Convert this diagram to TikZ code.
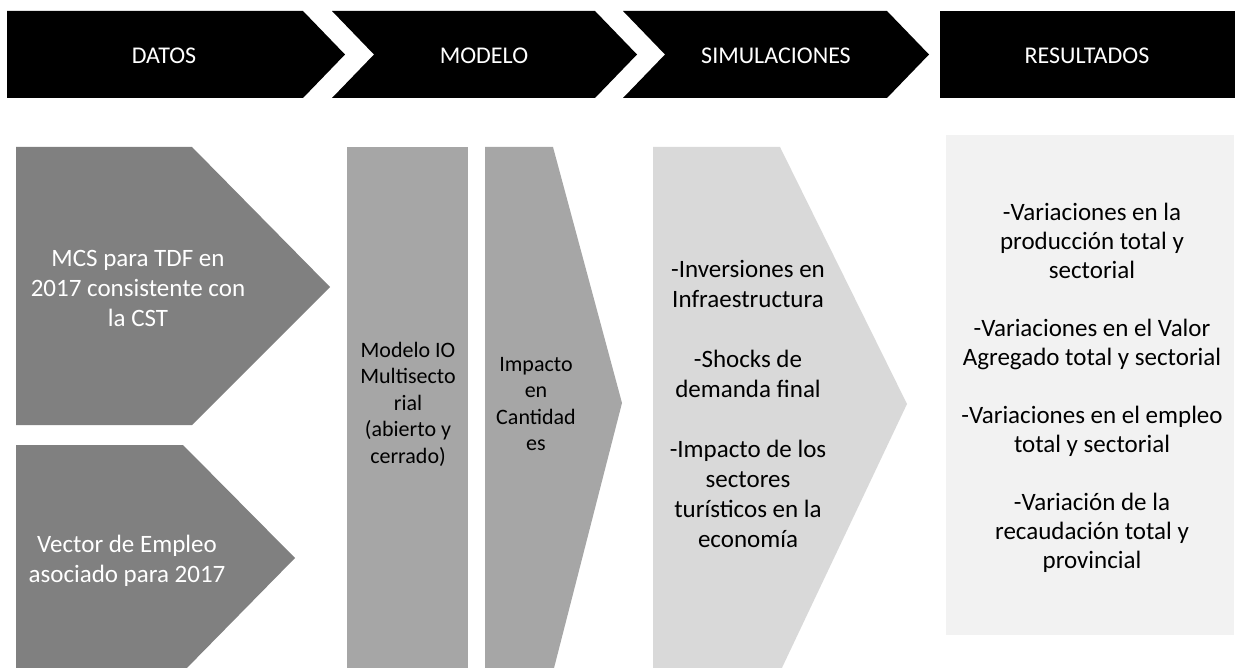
\documentclass[tikz,border=0pt]{standalone}
\usepackage{fontspec}
\setmainfont{Carlito}
\definecolor{hdr}{HTML}{000000}
\definecolor{datgray}{HTML}{808080}
\definecolor{modgray}{HTML}{A6A6A6}
\definecolor{simgray}{HTML}{D9D9D9}
\definecolor{resgray}{HTML}{F2F2F2}
\tikzset{
  hdrtext/.style={text=white, font=\fontsize{24}{29}\selectfont, inner sep=0pt},
  bodytext/.style={align=center, inner sep=0pt, font=\fontsize{25}{30}\selectfont},
  smalltext/.style={align=center, inner sep=0pt, font=\fontsize{22}{26.5}\selectfont},
}
\begin{document}
\begin{tikzpicture}[x=1pt,y=-1pt]
\useasboundingbox (0,0) rectangle (1235,668);
\begin{scope}
\clip (0,0) rectangle (1235,668);
% header chevrons
\fill[hdr] (7,11) -- (303,11) -- (345,54.5) -- (303,98) -- (7,98) -- cycle;
\fill[hdr] (332,11) -- (595,11) -- (637,54.5) -- (595,98) -- (332,98) -- (374,54.5) -- cycle;
\fill[hdr] (623,11) -- (887,11) -- (929,54.5) -- (887,98) -- (623,98) -- (665,54.5) -- cycle;
\fill[hdr] (940,11) rectangle (1240,98);
% body shapes
\fill[datgray] (16,147) -- (192,147) -- (330,287) -- (192,425) -- (16,425) -- cycle;
\fill[datgray] (16,445) -- (183,445) -- (295,558) -- (183,672) -- (16,672) -- cycle;
\fill[modgray] (347,147) rectangle (468,672);
\fill[modgray] (485,147) -- (553,147) -- (622,403) -- (553,672) -- (485,672) -- cycle;
\fill[simgray] (653,147) -- (780,147) -- (907,404) -- (780,672) -- (653,672) -- cycle;
\fill[resgray] (946,135) rectangle (1234,635);
\end{scope}
% header labels
\node[hdrtext] (datos) at (164,56) {DATOS};
\node[hdrtext] (modelo) at (484,56) {MODELO};
\node[hdrtext] (simul) at (776,56) {SIMULACIONES};
\node[hdrtext] (result) at (1087,56) {RESULTADOS};
% body labels
\node[bodytext, text=white] (mcs) at (138,288) {MCS para TDF en\\2017 consistente con\\la CST};
\node[bodytext, text=white] (vector) at (127,561) {Vector de Empleo\\asociado para 2017};
\node[smalltext, text=black] (io) at (408,404) {Modelo IO\\Multisecto\\rial\\(abierto y\\cerrado)};
\node[smalltext, text=black] (impacto) at (536,404) {Impacto\\en\\Cantidad\\es};
\node[bodytext, text=black] (sims) at (748,404) {-Inversiones en\\Infraestructura\\[30pt]-Shocks de\\demanda final\\[30pt]-Impacto de los\\sectores\\turísticos en la\\economía};
\node[bodytext, text=black, font=\fontsize{25}{29}\selectfont] (res) at (1092,388) {-Variaciones en la\\producción total y\\sectorial\\[29pt]-Variaciones en el Valor\\Agregado total y sectorial\\[29pt]-Variaciones en el empleo\\total y sectorial\\[29pt]-Variación de la\\recaudación total y\\provincial};
\end{tikzpicture}
\end{document}
